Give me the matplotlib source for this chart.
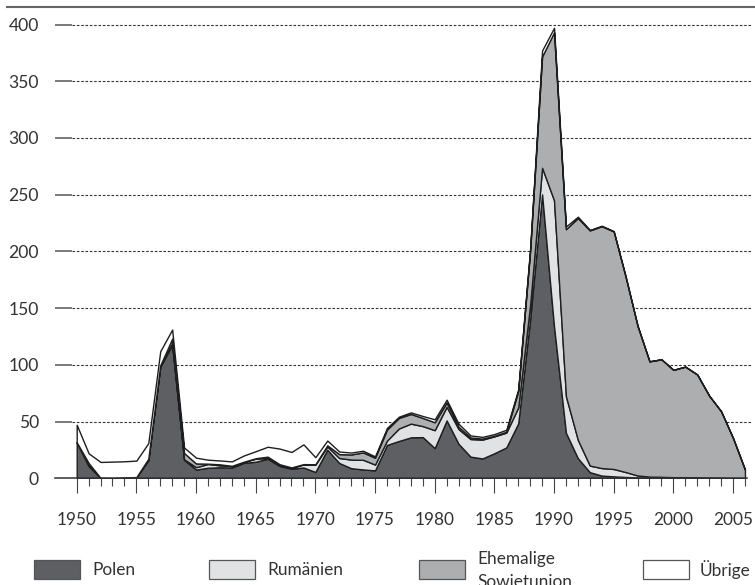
import matplotlib
matplotlib.use("Agg")
import matplotlib.pyplot as plt
from matplotlib.patches import Rectangle
from matplotlib.lines import Line2D

# ---------------- data (thousands of persons) ----------------
years = list(range(1950, 2007))

polen = [31.8, 10.8, 0.2, 0.1, 0.7, 0.9, 16.0, 98.3, 117.6, 16.3,
         7.7, 9.3, 9.7, 9.5, 13.6, 14.6, 17.3, 10.9, 8.4, 9.5,
         5.6, 25.2, 13.5, 8.9, 7.8, 7.0, 29.4, 32.9, 36.1, 36.3,
         26.6, 51.0, 30.4, 19.1, 17.5, 22.1, 27.2, 48.4, 140.2, 250.3,
         133.9, 40.1, 17.7, 5.4, 2.4, 1.7, 1.2, 0.7, 0.5, 0.4,
         0.5, 0.6, 0.6, 0.4, 0.3, 0.1, 0.1]

rumaenien = [0.0, 1.0, 0.0, 0.0, 0.0, 0.0, 0.2, 0.4, 1.4, 0.4,
             2.1, 3.3, 1.7, 1.3, 0.8, 2.7, 0.6, 0.4, 0.6, 2.7,
             6.5, 2.8, 4.4, 7.6, 8.5, 5.1, 3.8, 11.0, 12.1, 9.7,
             15.8, 12.0, 13.0, 15.5, 16.6, 14.9, 13.1, 14.0, 12.9, 23.4,
             111.2, 32.2, 16.1, 5.8, 6.6, 6.5, 4.3, 1.8, 1.0, 0.9,
             0.5, 0.4, 0.3, 0.1, 0.1, 0.0, 0.0]

sowjetunion = [0.0, 1.7, 0.1, 0.0, 0.0, 0.2, 1.0, 0.9, 4.1, 5.6,
               3.3, 0.3, 0.9, 0.2, 0.2, 0.4, 1.2, 1.1, 0.6, 0.3,
               0.3, 1.1, 3.4, 4.5, 6.5, 6.0, 9.7, 9.3, 8.5, 7.2,
               7.0, 3.8, 2.1, 1.4, 0.9, 0.5, 0.8, 14.5, 47.6, 98.1,
               148.0, 147.3, 195.6, 207.3, 213.2, 209.4, 172.2, 131.9, 101.6, 103.6,
               94.6, 97.4, 90.6, 72.3, 58.7, 35.4, 7.6]

uebrige = [15.4, 8.5, 14.1, 14.6, 14.3, 14.5, 13.8, 12.4, 8.0, 4.8,
           5.1, 3.5, 3.4, 3.9, 5.5, 6.2, 8.7, 13.8, 13.6, 17.4,
           6.2, 4.2, 2.3, 1.7, 1.5, 1.2, 1.5, 1.1, 1.4, 1.7,
           2.6, 2.5, 2.6, 1.8, 1.5, 1.5, 1.7, 1.6, 2.0, 5.3,
           4.0, 2.4, 1.2, 0.4, 0.4, 0.3, 0.1, 0.0, 0.0, 0.0,
           0.0, 0.1, 0.0, 0.1, 0.0, 0.0, 0.0]

y_ticks = [0, 50, 100, 150, 200, 250, 300, 350, 400]
x_major = list(range(1950, 2006, 5))
x_labels = [str(v) for v in x_major]

legend_labels = ["Polen", "Rumänien", "Ehemalige\nSowjetunion", "Übrige"]
colors = ["#5e5f63", "#e1e2e4", "#adaeb0", "#ffffff"]

# ---------------- layout ----------------
W, H = 755, 585
plt.rcParams['font.family'] = ['Lato', 'DejaVu Sans']
fig = plt.figure(figsize=(W / 100, H / 100), dpi=100)

px_per_year = 11.933
x1950_px = 76.7
ax_left_px, ax_right_px = 55, 752
y0_px, ytop_px = 478.3, 24.5

ax = fig.add_axes([ax_left_px / W, (H - y0_px) / H,
                   (ax_right_px - ax_left_px) / W, (y0_px - ytop_px) / H])
xmin = 1950 - (x1950_px - ax_left_px) / px_per_year
xmax = 1950 + (ax_right_px - x1950_px) / px_per_year
ax.set_xlim(xmin, xmax)
ax.set_ylim(0, 400)
for s in ax.spines.values():
    s.set_visible(False)

# grid lines: short solid stub followed by dashes
xsolid = 1950 - (x1950_px - 71.7) / px_per_year
for v in y_ticks[1:]:
    ax.plot([xmin, xsolid], [v, v], color='#7a7a7a', lw=1.4, clip_on=False,
            zorder=1, solid_capstyle='butt')
    ax.plot([xsolid, xmax], [v, v], color='#333333', lw=0.8, dashes=(2.3, 1.6),
            clip_on=False, zorder=1)

# stacked areas
ax.stackplot(years, polen, rumaenien, sowjetunion, uebrige, colors=colors,
             edgecolor='#1e1e1e', linewidth=1.0, zorder=2)

# baseline
ax.plot([xmin, 2006.15], [0, 0], color='#333333', lw=1.1, clip_on=False, zorder=3)

ax.set_xticks(x_major)
ax.set_xticklabels(x_labels)
ax.set_xticks(years, minor=True)
ax.tick_params(axis='x', which='major', length=10.8, width=0.8, color='#444444',
               pad=13.5, labelsize=12.4, labelcolor='#333333', direction='out')
ax.tick_params(axis='x', which='minor', length=5.5, width=0.8, color='#444444',
               direction='out')
ax.set_yticks(y_ticks)
ax.set_yticklabels([str(v) for v in y_ticks])
ax.tick_params(axis='y', length=0, pad=11.5, labelsize=12.6, labelcolor='#333333')

# top rule
fig.add_artist(Line2D([7 / W, 1.0], [1 - 7 / H, 1 - 7 / H], color='#666666', lw=1.5))

# legend
patch_x = [34, 209, 419, 643]
text_x = [92, 267, 477, 700]
patch_w, patch_h = 46, 19
patch_top = 560
text_y = 570
for px, tx, lab, col in zip(patch_x, text_x, legend_labels, colors):
    fig.add_artist(Rectangle((px / W, (H - patch_top - patch_h) / H), patch_w / W, patch_h / H,
                             facecolor=col, edgecolor='#555555', lw=0.9,
                             transform=fig.transFigure))
    if "\n" in lab:
        l1, l2 = lab.split("\n")
        fig.text(tx / W, 1 - 559 / H, l1, va='center', ha='left', fontsize=12.4, color='#333333')
        fig.text(tx / W, 1 - 582 / H, l2, va='center', ha='left', fontsize=12.4, color='#333333')
    else:
        fig.text(tx / W, 1 - text_y / H, lab, va='center', ha='left', fontsize=12.4, color='#333333')

fig.savefig("out.png", dpi=100)
